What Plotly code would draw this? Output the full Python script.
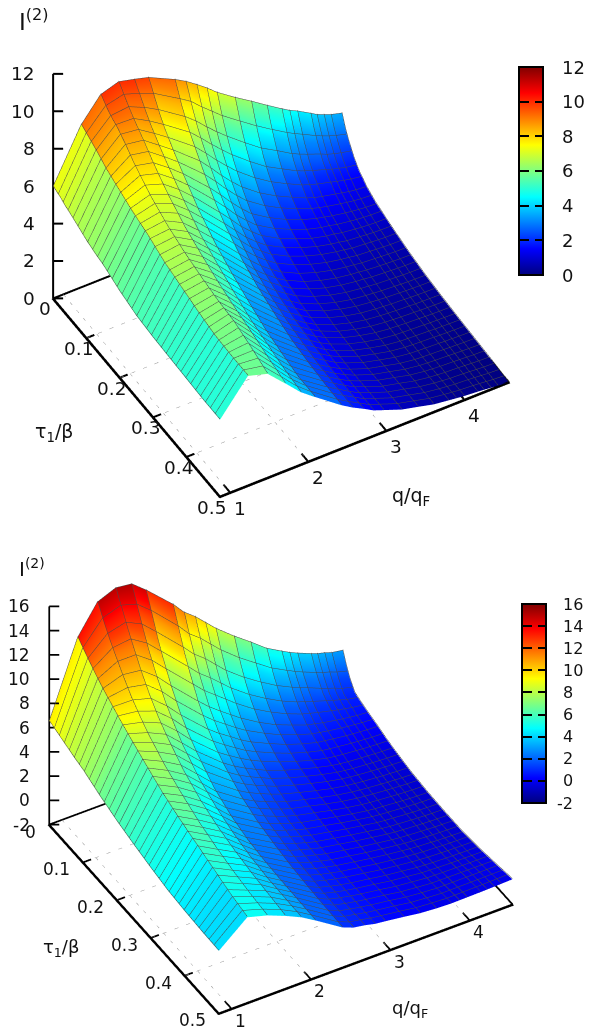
import math
import plotly.graph_objects as go

W, H = 589, 1032
tau = [0, .01, .02, .035, .05, .075, .1, .125, .15, .2, .25, .3, .35, .4, .45, .5]
tau_ticks = [0, .1, .2, .3, .4, .5]
q_ticks = [1, 2, 3, 4]

q_top = [.87, 1.23, 1.48, 1.71, 1.91, 2.09, 2.43, 2.57, 2.71, 2.84, 2.97, 3.2, 3.41, 3.61, 3.8, 3.9, 4.0, 4.17, 4.25, 4.34, 4.43, 4.57]
z_top = [
 [6.0, 5.9, 5.85, 5.7, 5.6, 5.4, 5.2, 5.05, 4.95, 4.6, 4.35, 4.25, 4.2, 4.15, 4.1, 4.1],
 [8.7, 8.6, 8.5, 8.35, 8.2, 7.9, 7.7, 7.5, 7.3, 7.0, 6.6, 6.35, 6.1, 5.9, 5.85, 5.85],
 [9.9, 9.7, 9.5, 9.3, 9.15, 8.75, 8.3, 7.95, 7.6, 7.1, 6.75, 6.5, 6.3, 6.2, 5.9, 5.55],
 [10.2, 9.95, 9.7, 9.35, 9.05, 8.6, 8.1, 7.65, 7.25, 6.6, 6.15, 5.75, 5.45, 5.2, 4.9, 4.65],
 [10.0, 9.7, 9.4, 8.95, 8.55, 8.0, 7.5, 7.05, 6.6, 5.85, 5.35, 4.9, 4.5, 4.25, 4.0, 3.85],
 [9.8, 9.45, 9.05, 8.5, 8.05, 7.45, 6.9, 6.4, 5.9, 5.15, 4.6, 4.15, 3.75, 3.5, 3.3, 3.3],
 [9.13, 8.65, 8.15, 7.55, 7.05, 6.3, 5.6, 5.0, 4.5, 3.75, 3.25, 2.9, 2.6, 2.45, 2.35, 2.3],
 [8.8, 8.3, 7.75, 7.05, 6.5, 5.7, 5.0, 4.4, 3.9, 3.15, 2.7, 2.4, 2.2, 2.05, 2.0, 1.95],
 [8.4, 7.8, 7.2, 6.5, 5.9, 5.05, 4.35, 3.75, 3.3, 2.65, 2.25, 2.0, 1.85, 1.7, 1.65, 1.65],
 [8.0, 7.35, 6.75, 6.0, 5.4, 4.5, 3.8, 3.25, 2.85, 2.25, 1.9, 1.65, 1.5, 1.4, 1.35, 1.35],
 [7.55, 6.9, 6.3, 5.55, 4.9, 4.0, 3.3, 2.8, 2.45, 1.9, 1.55, 1.35, 1.22, 1.15, 1.15, 1.15],
 [6.9, 6.25, 5.6, 4.8, 4.15, 3.3, 2.7, 2.25, 1.95, 1.45, 1.15, .95, .85, .8, .8, .8],
 [6.35, 5.65, 5.0, 4.15, 3.55, 2.8, 2.25, 1.88, 1.6, 1.15, .88, .7, .62, .6, .6, .6],
 [5.8, 5.1, 4.5, 3.7, 3.1, 2.4, 1.9, 1.55, 1.33, .95, .7, .53, .44, .4, .4, .4],
 [5.3, 4.65, 4.0, 3.25, 2.7, 2.05, 1.65, 1.35, 1.15, .82, .6, .44, .34, .29, .28, .3],
 [5.05, 4.4, 3.8, 3.05, 2.55, 1.9, 1.55, 1.3, 1.08, .78, .56, .41, .32, .26, .24, .25],
 [4.85, 4.2, 3.6, 2.9, 2.4, 1.8, 1.45, 1.2, 1.0, .72, .52, .38, .3, .24, .2, .2],
 [4.45, 3.8, 3.3, 2.65, 2.2, 1.65, 1.32, 1.1, .94, .67, .48, .35, .27, .21, .17, .15],
 [4.25, 3.65, 3.15, 2.5, 2.1, 1.58, 1.27, 1.06, .91, .65, .46, .33, .25, .19, .15, .12],
 [4.1, 3.5, 3.0, 2.4, 2.0, 1.5, 1.22, 1.03, .88, .63, .44, .32, .24, .18, .12, .08],
 [3.95, 3.35, 2.9, 2.3, 1.9, 1.45, 1.18, 1.01, .86, .61, .43, .31, .23, .16, .1, .04],
 [3.8, 3.2, 2.75, 2.2, 1.8, 1.4, 1.15, 1.0, .85, .6, .42, .3, .22, .15, .08, .0],
]

q_bot = [.84, 1.2, 1.45, 1.68, 1.88, 2.06, 2.4, 2.54, 2.68, 2.81, 2.94, 3.17, 3.38, 3.58, 3.77, 3.87, 3.97, 4.14, 4.22, 4.31, 4.4, 4.54]
z_bot = [
 [6.55, 6.45, 6.35, 6.2, 6.05, 5.8, 5.6, 5.3, 5.0, 4.5, 4.1, 3.75, 3.45, 3.3, 3.2, 3.15],
 [12.6, 12.3, 12.0, 11.6, 11.2, 10.6, 10.1, 9.6, 9.15, 8.3, 7.5, 6.9, 6.4, 5.9, 5.4, 5.05],
 [14.9, 14.3, 13.7, 12.9, 12.2, 11.1, 10.1, 9.3, 8.6, 7.5, 6.7, 6.0, 5.5, 5.1, 4.8, 4.6],
 [15.5, 14.8, 14.2, 13.2, 12.3, 10.9, 9.7, 8.7, 7.9, 6.6, 5.7, 5.1, 4.7, 4.4, 4.2, 4.0],
 [15.34, 14.5, 13.7, 12.5, 11.4, 9.9, 8.6, 7.6, 6.7, 5.4, 4.6, 4.05, 3.7, 3.5, 3.45, 3.4],
 [14.4, 13.6, 12.7, 11.4, 10.3, 8.7, 7.4, 6.4, 5.6, 4.3, 3.55, 3.1, 2.9, 2.8, 2.75, 2.7],
 [12.4, 11.5, 10.6, 9.3, 8.2, 6.6, 5.4, 4.5, 3.8, 2.8, 2.2, 1.85, 1.6, 1.45, 1.35, 1.3],
 [11.4, 10.5, 9.6, 8.4, 7.3, 5.8, 4.7, 3.9, 3.2, 2.3, 1.75, 1.4, 1.2, 1.05, .95, .95],
 [10.7, 9.8, 8.9, 7.7, 6.6, 5.1, 4.1, 3.3, 2.7, 1.9, 1.4, 1.1, .9, .8, .75, .8],
 [9.9, 9.0, 8.1, 6.9, 5.9, 4.5, 3.5, 2.8, 2.3, 1.55, 1.1, .85, .7, .6, .6, .6],
 [9.1, 8.2, 7.3, 6.1, 5.2, 3.9, 3.0, 2.4, 1.9, 1.25, .85, .62, .5, .45, .45, .5],
 [7.9, 7.0, 6.1, 5.0, 4.1, 3.0, 2.3, 1.75, 1.35, .85, .55, .35, .25, .22, .25, .3],
 [6.9, 6.0, 5.2, 4.1, 3.3, 2.3, 1.7, 1.25, .95, .5, .25, .1, .03, 0, .02, .1],
 [5.9, 5.1, 4.3, 3.4, 2.6, 1.8, 1.25, .85, .6, .2, 0, -.1, -.15, -.15, -.1, 0],
 [5.2, 4.4, 3.7, 2.8, 2.1, 1.35, .9, .55, .3, 0, -.2, -.3, -.3, -.3, -.2, -.05],
 [4.85, 4.05, 3.4, 2.55, 1.9, 1.2, .8, .45, .2, -.08, -.28, -.37, -.38, -.34, -.2, -.04],
 [4.55, 3.75, 3.1, 2.3, 1.7, 1.05, .7, .38, .12, -.15, -.33, -.42, -.44, -.38, -.2, -.03],
 [4.1, 3.3, 2.65, 1.85, 1.4, .85, .55, .27, .03, -.25, -.42, -.5, -.5, -.42, -.2, -.01],
 [3.9, 3.1, 2.45, 1.65, 1.25, .77, .5, .22, 0, -.3, -.46, -.53, -.54, -.43, -.2, 0],
 [3.75, 2.95, 2.25, 1.45, 1.1, .7, .45, .18, -.04, -.33, -.5, -.56, -.56, -.44, -.2, .02],
 [3.55, 2.75, 2.0, 1.2, .95, .62, .4, .14, -.07, -.37, -.53, -.58, -.58, -.45, -.2, .04],
 [3.4, 2.5, 1.75, 1.0, .8, .55, .35, .1, -.1, -.4, -.55, -.6, -.6, -.45, -.2, .07],
]

JET = [[0, "#00007f"], [.125, "#0000ff"], [.375, "#00ffff"], [.625, "#ffff00"], [.875, "#ff0000"], [1, "#7f0000"]]
CLEAR = [[0, "rgba(0,0,0,0)"], [1, "rgba(0,0,0,0)"]]
MESH = "#4a4a4a"
EPS = .002


def note(text, x, y, size, anchor="left"):
    return dict(text=text, x=x / W, y=1 - y / H, xref="paper", yref="paper", xanchor=anchor, yanchor="middle",
                showarrow=False, font=dict(family="DejaVu Sans", size=size, color="#111111"))


def facets(q, z):
    """Repeat each q column so that every q cell keeps one flat colour (mean of its corners)."""
    n = len(tau)
    qq, zz, cc = [], [], []
    for j in range(len(q) - 1):
        cell = []
        for i in range(n):
            a = min(i, n - 2)
            cell.append((z[j][a] + z[j][a + 1] + z[j + 1][a] + z[j + 1][a + 1]) / 4)
        qq += [q[j], q[j + 1] - EPS]
        zz += [z[j], z[j + 1]]
        cc += [cell, cell]
    return qq, zz, cc


def add_plot(fig, scene, q, z, zmin, zmax, zdtick, cb, lw):
    ztext = list(range(zmin, zmax + 1, zdtick))
    qq, zz, cc = facets(q, z)
    fig.add_trace(go.Surface(
        x=tau, y=qq, z=zz, surfacecolor=cc, scene=scene, cmin=zmin, cmax=zmax, colorscale=JET,
        lighting=dict(ambient=1, diffuse=0, specular=0, fresnel=0, roughness=1),
        contours=dict(
            x=dict(show=True, start=0, end=.5, size=.0147, color=MESH, width=1),
            y=dict(show=False), z=dict(show=False)),
        colorbar=dict(x=cb["x"] / W, xanchor="left", xpad=0, y=1 - cb["top"] / H, yanchor="top", ypad=0,
                      len=cb["h"] / H, lenmode="fraction", thickness=24, thicknessmode="pixels",
                      outlinewidth=2, outlinecolor="black", borderwidth=0,
                      tickmode="array", tickvals=ztext, showticklabels=False,
                      ticks="inside", ticklen=9, tickwidth=2, tickcolor="black"),
        hoverinfo="skip"))
    # q mesh lines, one per data column
    xs, ys, zs = [], [], []
    lift = (zmax - zmin) * .003
    for qv, row in zip(q, z):
        xs += tau + [None]
        ys += [qv] * len(tau) + [None]
        zs += [v + lift for v in row] + [None]
    fig.add_trace(go.Scatter3d(x=xs, y=ys, z=zs, mode="lines", scene=scene,
                               line=dict(color=MESH, width=1), showlegend=False, hoverinfo="skip"))
    # dotted floor grid
    gx, gy, gz = [], [], []
    for t in tau_ticks[1:-1]:
        gx += [t, t, None]; gy += [q[0], q[-1], None]; gz += [zmin, zmin, None]
    for qt in q_ticks:
        gx += [0, .5, None]; gy += [qt, qt, None]; gz += [zmin, zmin, None]
    fig.add_trace(go.Scatter3d(x=gx, y=gy, z=gz, mode="lines", scene=scene,
                               line=dict(color="#999999", width=1, dash="dot"), showlegend=False, hoverinfo="skip"))
    # frame of the box and tick marks
    fx = [0, .5, .5, 0, 0, 0]
    fy = [q[0], q[0], q[-1], q[-1], q[0], q[0]]
    fz = [zmin, zmin, zmin, zmin, zmin, zmax]
    for t in tau_ticks:
        fx += [None, t, t]; fy += [None, q[0], q[0] + .1]; fz += [None, zmin, zmin]
    for qt in q_ticks:
        fx += [None, .5, .48]; fy += [None, qt, qt]; fz += [None, zmin, zmin]
    for v in ztext:
        fx += [None, 0, .0075]; fy += [None, q[0], q[0] + .095]; fz += [None, v, v]
    fig.add_trace(go.Scatter3d(x=fx, y=fy, z=fz, mode="lines", scene=scene,
                               line=dict(color="black", width=lw), showlegend=False, hoverinfo="skip"))
    # transparent bar whose outside ticks give the left half of the colour-bar dashes
    fig.add_trace(go.Scatter3d(
        x=[0], y=[q[0]], z=[zmin], mode="markers", scene=scene, showlegend=False, hoverinfo="skip",
        marker=dict(size=1, opacity=0, color=[zmin], cmin=zmin, cmax=zmax, colorscale=CLEAR, showscale=True,
                    colorbar=dict(x=cb["x"] / W, xanchor="left", xpad=0, y=1 - cb["top"] / H, yanchor="top", ypad=0,
                                  len=cb["h"] / H, lenmode="fraction", thickness=1, thicknessmode="pixels",
                                  outlinewidth=0, borderwidth=0, tickmode="array", tickvals=ztext,
                                  showticklabels=False, ticks="outside", ticklen=9, tickwidth=2,
                                  tickcolor="black"))))
    labels = []
    for v in ztext:
        yy = cb["top"] + (zmax - v) / (zmax - zmin) * cb["h"]
        labels.append(note(str(v), cb["lab"] - (6 if v < 0 else 0), yy, cb["font"]))
    return ztext, labels


def scene_layout(q, zmin, zmax, ztext, aspect, aspectz, el, shift, font, tau_lab, q_lab, z_lab, lw):
    c, s = math.cos(math.radians(el)), math.sin(math.radians(el))
    fwd = (.866 * c, -.5 * c, s)
    r = (.5, .866, 0)
    u = (-.866 * s, .5 * s, c)
    k = shift[2]
    cen = [shift[0] / k * r[i] + shift[1] / k * u[i] for i in range(3)]
    base = dict(showbackground=False, showgrid=False, zeroline=False, showspikes=False,
                showline=True, linecolor="black", linewidth=lw,
                title=dict(text=""), ticks="", showticklabels=False)
    fnt = dict(family="DejaVu Sans", size=font, color="#111111")
    ann = []
    for t in tau_ticks:
        ann.append(dict(x=t, y=q[0], z=zmin, text=str(t), showarrow=False, font=fnt, xanchor=tau_lab[0],
                        xshift=tau_lab[1], yshift=-tau_lab[2]))
    for qt in q_ticks:
        ann.append(dict(x=.5, y=qt, z=zmin, text=str(qt), showarrow=False, font=fnt, xanchor="center",
                        xshift=q_lab[0], yshift=-q_lab[1]))
    for v in ztext:
        ann.append(dict(x=0, y=q[0], z=v, text=str(v), showarrow=False, font=fnt, xanchor="right",
                        xshift=z_lab, yshift=0))
    dist = 2.0
    pad = .002
    return dict(
        xaxis=dict(base, range=[-pad * .5, .5 + pad * .5]),
        yaxis=dict(base, range=[q[0] - pad * (q[-1] - q[0]), q[-1] + pad * (q[-1] - q[0])]),
        zaxis=dict(base, range=[zmin - pad * (zmax - zmin), zmax + pad * (zmax - zmin)], showline=False),
        aspectmode="manual", aspectratio=dict(x=aspect, y=aspect, z=aspect * aspectz),
        annotations=ann,
        camera=dict(projection=dict(type="orthographic"),
                    up=dict(x=0, y=0, z=1),
                    center=dict(x=cen[0], y=cen[1], z=cen[2]),
                    eye=dict(x=cen[0] + dist * fwd[0], y=cen[1] + dist * fwd[1], z=cen[2] + dist * fwd[2])),
    )


fig = go.Figure()
zt1, lab1 = add_plot(fig, "scene", q_top, z_top, 0, 12, 2, dict(x=519, top=67, h=208, font=18, lab=560), 4)
zt2, lab2 = add_plot(fig, "scene2", q_bot, z_bot, -2, 16, 2, dict(x=522, top=604, h=199, font=16, lab=561), 3.5)

s1 = scene_layout(q_top, 0, 12, zt1, 1.288, .925, 43.3, (13.5, -32, 260), 18.5,
                  ("center", -8, 10.5), (10, 16), -16, 3)
s1["domain"] = dict(x=[0, 1], y=[1 - 520 / H, 1])
s2 = scene_layout(q_bot, -2, 16, zt2, 1.28, .84, 40, (13.5, -10.5, 263), 17,
                  ("right", -11, 7), (9, 12), -17, 3)
s2["domain"] = dict(x=[0, 1], y=[0, 1 - 500 / H])

fig.update_layout(
    width=W, height=H, margin=dict(l=0, r=0, t=0, b=0), paper_bgcolor="white", showlegend=False,
    scene=s1, scene2=s2,
    annotations=lab1 + lab2 + [
        note("I<sup>(2)</sup>", 17, 20, 23), note("τ<sub>1</sub>/β", 33, 432, 19), note("q/q<sub>F</sub>", 390, 497, 19),
        note("I<sup>(2)</sup>", 17, 568, 20), note("τ<sub>1</sub>/β", 41, 948, 18), note("q/q<sub>F</sub>", 390, 1009, 18),
    ])
fig.write_html("out.html", post_script="document.body.style.margin='0';", config=dict(displayModeBar=False))
